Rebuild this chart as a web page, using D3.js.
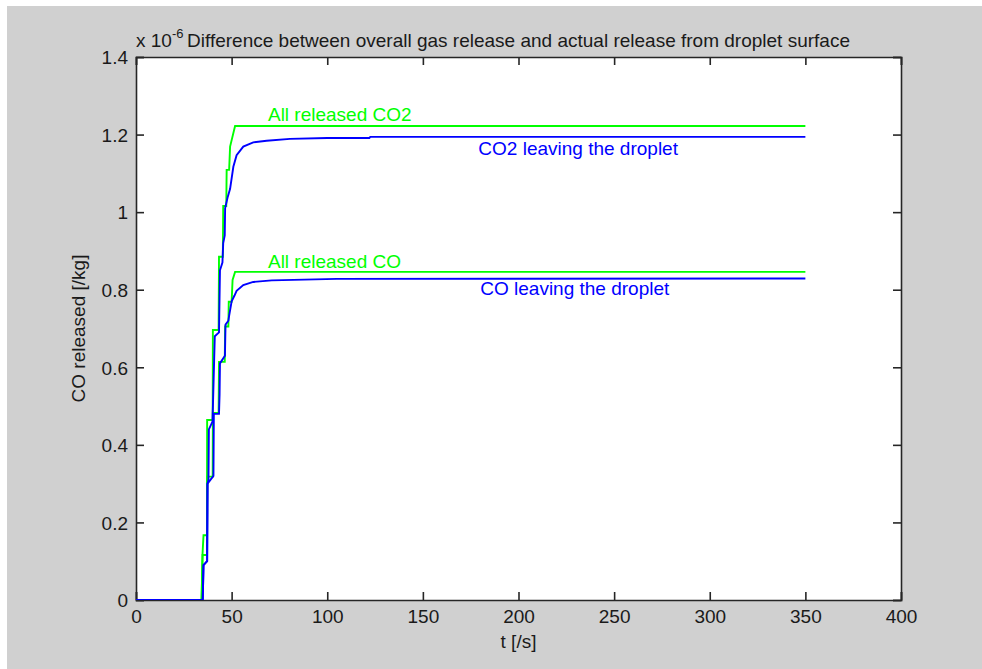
<!DOCTYPE html>
<html>
<head>
<meta charset="utf-8">
<script src="https://cdn.jsdelivr.net/npm/d3@7/dist/d3.min.js"></script>
<style>
  html, body { margin: 0; padding: 0; background: #ffffff; }
  svg { display: block; }
  text { font-family: "Liberation Sans", Arial, Helvetica, sans-serif; }
</style>
</head>
<body>
<svg id="chart" width="982" height="669"></svg>
<script>
// ---- data (values in units of 1e-6 kg) ----
const xTicks = [0, 50, 100, 150, 200, 250, 300, 350, 400];
const yTicks = [0, 0.2, 0.4, 0.6, 0.8, 1, 1.2, 1.4];
const yTickLabels = ["0", "0.2", "0.4", "0.6", "0.8", "1", "1.2", "1.4"];

const allCO2 = [[0,0],[34.3,0],[34.8,0.12],[35.3,0.167],[37.1,0.167],[37.2,0.464],[40.1,0.464],[40.2,0.696],[43.2,0.696],[43.4,0.885],[45.4,0.885],[45.6,1.016],[47.2,1.016],[47.4,1.109],[48.7,1.109],[49.2,1.169],[51.8,1.222],[350,1.222]];
const allCO = [[0,0],[34.3,0],[34.8,0.116],[37.1,0.116],[37.3,0.318],[40.1,0.318],[40.2,0.482],[43.2,0.482],[43.4,0.614],[46.4,0.614],[46.6,0.705],[48.3,0.705],[48.5,0.769],[50,0.769],[50.5,0.825],[51.8,0.846],[350,0.846]];
const leaveCO2 = [[0,0],[34.9,0],[35.3,0.09],[37.2,0.10],[37.4,0.30],[37.9,0.31],[38.1,0.44],[40.0,0.46],[40.6,0.57],[41.2,0.68],[43.4,0.69],[43.9,0.85],[45.2,0.87],[45.6,0.92],[46.4,0.94],[46.6,1.01],[48.0,1.04],[49.2,1.06],[50.9,1.117],[52.6,1.147],[56.1,1.169],[61.3,1.180],[68.3,1.184],[80.5,1.189],[100,1.191],[122,1.191],[122.5,1.194],[350,1.194]];
const leaveCO = [[0,0],[34.9,0],[35.3,0.09],[37.2,0.10],[37.4,0.30],[40.5,0.32],[40.7,0.48],[43.4,0.48],[43.7,0.53],[43.9,0.61],[46.5,0.63],[46.8,0.71],[48.3,0.72],[48.6,0.73],[50.0,0.77],[51.5,0.785],[52.6,0.797],[56.1,0.812],[61.3,0.820],[71,0.824],[105,0.828],[350,0.829]];

const seriesNames = ["All released CO2", "CO2 leaving the droplet", "All released CO", "CO leaving the droplet"];
const titleText = "Difference between overall gas release and actual release from droplet surface";
const xLabel = "t [/s]";
const yLabel = "CO released [/kg]";

(function () {
  // ---- layout ----
  const svg = d3.select("#chart");
  const W = 982, H = 669;
  const mL = 136, mR = 901, mT = 57, mB = 600;
  const green = "#00ff00", blue = "#0000ff";

  svg.append("rect").attr("x", 7).attr("y", 6).attr("width", W - 7).attr("height", H - 6).attr("fill", "#d0d0d0");
  svg.append("rect").attr("x", mL).attr("y", mT).attr("width", mR - mL).attr("height", mB - mT).attr("fill", "#ffffff");

  const x = d3.scaleLinear().domain([0, 400]).range([mL, mR]);
  const y = d3.scaleLinear().domain([0, 1.4]).range([mB, mT]);

  const fs = 19;
  const axisColor = "#262626";

  const gx = svg.append("g").attr("transform", `translate(0,${mB})`)
    .call(d3.axisBottom(x).tickValues(xTicks).tickSize(-8).tickPadding(10).tickFormat(d3.format("d")));
  const gxt = svg.append("g").attr("transform", `translate(0,${mT})`)
    .call(d3.axisTop(x).tickValues(xTicks).tickSize(-8).tickFormat(""));
  const gy = svg.append("g").attr("transform", `translate(${mL},0)`)
    .call(d3.axisLeft(y).tickValues(yTicks).tickSize(-8).tickPadding(8).tickFormat((d, i) => yTickLabels[i]));
  const gyr = svg.append("g").attr("transform", `translate(${mR},0)`)
    .call(d3.axisRight(y).tickValues(yTicks).tickSize(-8).tickFormat(""));

  [gx, gxt, gy, gyr].forEach(g => {
    g.select(".domain").attr("stroke", axisColor).attr("stroke-width", 1.6);
    g.selectAll(".tick line").attr("stroke", axisColor).attr("stroke-width", 1.6);
    g.selectAll(".tick text").attr("fill", "#1a1a1a").attr("font-size", fs)
      .attr("font-family", '"Liberation Sans", Arial, sans-serif');
  });
  gx.selectAll(".tick text").attr("dy", null).attr("y", 23);
  gy.selectAll(".tick text").attr("dy", "0.36em");

  // ---- lines ----
  const line = d3.line().x(d => x(d[0])).y(d => y(d[1]));
  svg.append("clipPath").attr("id", "plotclip").append("rect")
    .attr("x", mL).attr("y", mT).attr("width", mR - mL).attr("height", mB - mT);
  const plot = svg.append("g").attr("clip-path", "url(#plotclip)");

  [[allCO2, green], [allCO, green], [leaveCO2, blue], [leaveCO, blue]].forEach(([data, col]) => {
    plot.append("path").datum(data).attr("d", line)
      .attr("fill", "none").attr("stroke", col).attr("stroke-width", 1.9)
      .attr("stroke-linejoin", "miter");
  });

  // ---- annotations ----
  svg.append("text").attr("x", x(69)).attr("y", y(1.236)).attr("font-size", fs).attr("fill", green).text(seriesNames[0]);
  svg.append("text").attr("x", x(179)).attr("y", y(1.148)).attr("font-size", fs).attr("fill", blue).text(seriesNames[1]);
  svg.append("text").attr("x", x(69)).attr("y", y(0.857)).attr("font-size", fs).attr("fill", green).text(seriesNames[2]);
  svg.append("text").attr("x", x(180)).attr("y", y(0.786)).attr("font-size", fs).attr("fill", blue).text(seriesNames[3]);

  // ---- title and exponent ----
  const tt = svg.append("text").attr("x", mL).attr("y", 47).attr("font-size", fs).attr("fill", "#1a1a1a");
  tt.append("tspan").text("x 10");
  tt.append("tspan").attr("dy", -9).attr("font-size", 13).text("-6");
  svg.append("text").attr("x", (mL + mR) / 2).attr("y", 47).attr("text-anchor", "middle")
    .attr("font-size", fs).attr("fill", "#1a1a1a").text(titleText);

  // axis labels
  svg.append("text").attr("x", (mL + mR) / 2).attr("y", 648).attr("text-anchor", "middle")
    .attr("font-size", fs).attr("fill", "#1a1a1a").text(xLabel);
  svg.append("text").attr("transform", `translate(85,${(mT + mB) / 2}) rotate(-90)`)
    .attr("text-anchor", "middle").attr("font-size", fs).attr("fill", "#1a1a1a").text(yLabel);
})();
</script>
</body>
</html>
